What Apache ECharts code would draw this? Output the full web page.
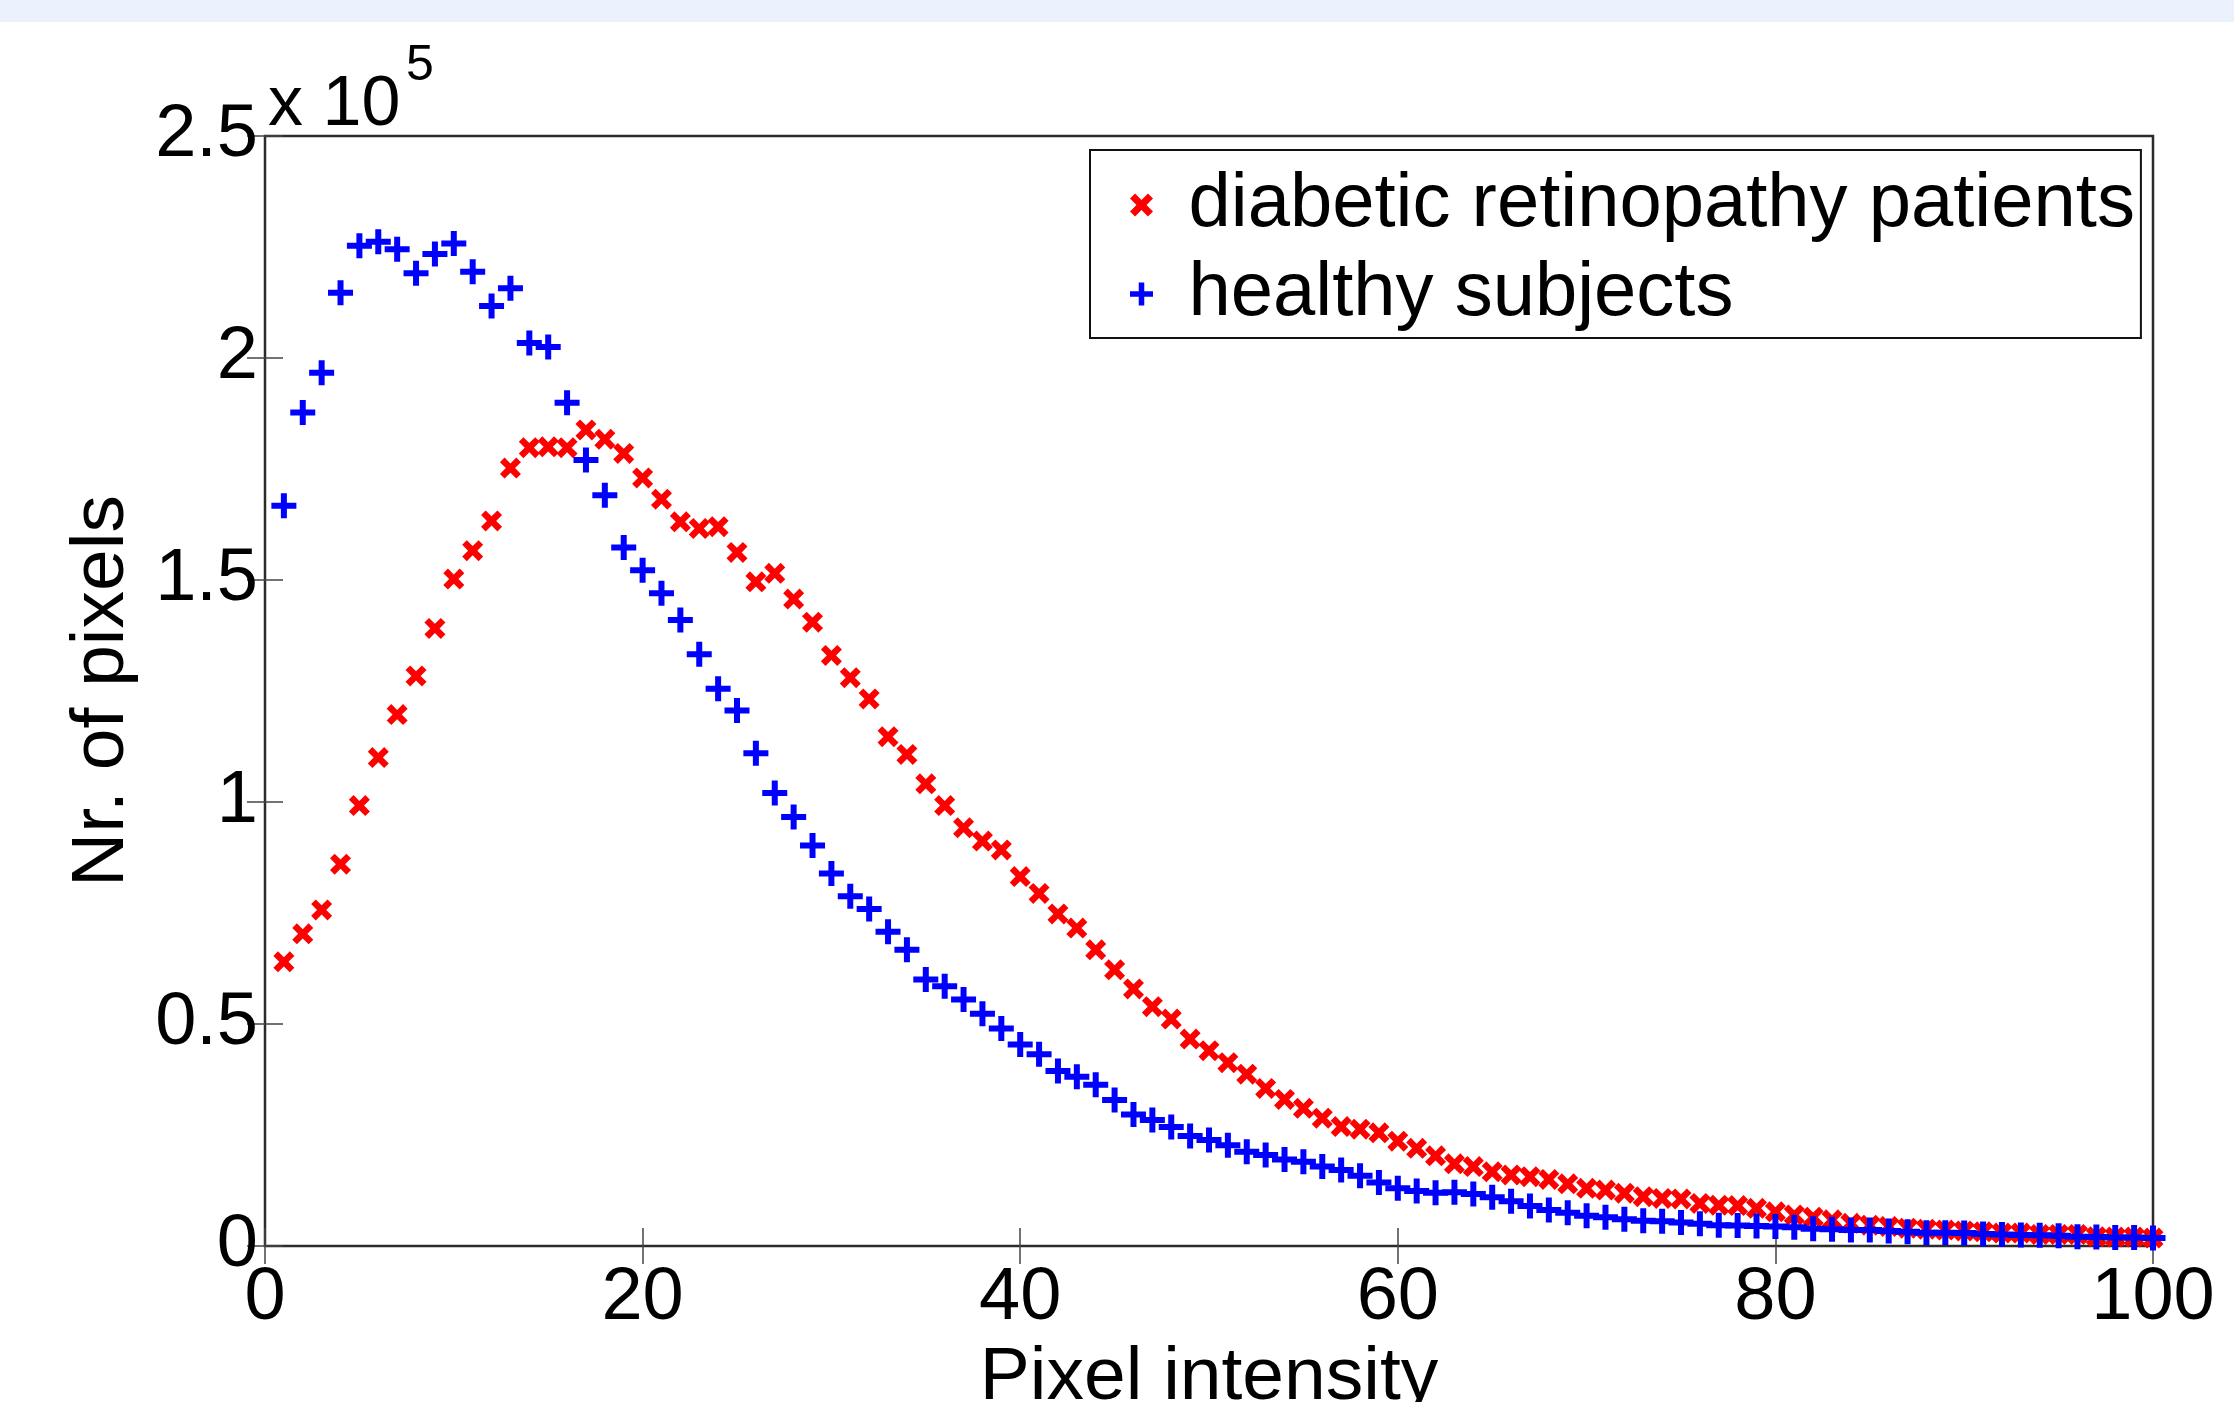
<!DOCTYPE html>
<html>
<head>
<meta charset="utf-8">
<title>Pixel intensity histogram</title>
<script src="https://cdn.jsdelivr.net/npm/echarts@6.0.0/dist/echarts.min.js"></script>
<style>
  html, body { margin: 0; padding: 0; background: #fff; }
  #chart { width: 2234px; height: 1402px; }
</style>
</head>
<body>
<div id="chart"></div>
<script>
// pixel intensity (x axis)
var intensity = [1, 2, 3, 4, 5, 6, 7, 8, 9, 10, 11, 12, 13, 14, 15, 16, 17, 18, 19, 20,
  21, 22, 23, 24, 25, 26, 27, 28, 29, 30, 31, 32, 33, 34, 35, 36, 37, 38, 39, 40,
  41, 42, 43, 44, 45, 46, 47, 48, 49, 50, 51, 52, 53, 54, 55, 56, 57, 58, 59, 60,
  61, 62, 63, 64, 65, 66, 67, 68, 69, 70, 71, 72, 73, 74, 75, 76, 77, 78, 79, 80,
  81, 82, 83, 84, 85, 86, 87, 88, 89, 90, 91, 92, 93, 94, 95, 96, 97, 98, 99, 100];

// nr. of pixels, in units of 10^5
var diabetic = [0.640, 0.703, 0.757, 0.860, 0.992, 1.100, 1.197, 1.284, 1.391, 1.502,
  1.566, 1.633, 1.752, 1.798, 1.800, 1.798, 1.838, 1.817, 1.785, 1.730,
  1.682, 1.631, 1.616, 1.620, 1.562, 1.496, 1.515, 1.457, 1.405, 1.330,
  1.280, 1.232, 1.147, 1.107, 1.041, 0.992, 0.942, 0.912, 0.892, 0.832,
  0.794, 0.748, 0.716, 0.667, 0.622, 0.579, 0.539, 0.511, 0.466, 0.440,
  0.413, 0.387, 0.355, 0.330, 0.310, 0.288, 0.269, 0.263, 0.255, 0.236,
  0.220, 0.203, 0.185, 0.179, 0.167, 0.160, 0.156, 0.150, 0.140, 0.130,
  0.126, 0.119, 0.111, 0.107, 0.106, 0.096, 0.092, 0.091, 0.085, 0.077,
  0.070, 0.065, 0.059, 0.051, 0.047, 0.044, 0.040, 0.038, 0.036, 0.034,
  0.032, 0.029, 0.029, 0.026, 0.026, 0.026, 0.021, 0.020, 0.020, 0.018];

var healthy = [1.667, 1.877, 1.967, 2.147, 2.253, 2.262, 2.245, 2.191, 2.234, 2.258,
  2.194, 2.117, 2.157, 2.034, 2.025, 1.899, 1.770, 1.691, 1.573, 1.522,
  1.470, 1.410, 1.333, 1.255, 1.206, 1.110, 1.020, 0.966, 0.902, 0.839,
  0.788, 0.759, 0.708, 0.667, 0.600, 0.585, 0.555, 0.523, 0.490, 0.454,
  0.432, 0.394, 0.381, 0.363, 0.329, 0.296, 0.284, 0.268, 0.248, 0.239,
  0.227, 0.212, 0.205, 0.195, 0.190, 0.179, 0.171, 0.158, 0.143, 0.130,
  0.124, 0.120, 0.121, 0.117, 0.110, 0.101, 0.090, 0.081, 0.075, 0.068,
  0.065, 0.060, 0.057, 0.056, 0.053, 0.050, 0.047, 0.046, 0.045, 0.044,
  0.042, 0.039, 0.038, 0.036, 0.036, 0.034, 0.032, 0.030, 0.030, 0.029,
  0.027, 0.026, 0.025, 0.024, 0.023, 0.021, 0.020, 0.019, 0.019, 0.018];

var seriesNames = ["diabetic retinopathy patients", "healthy subjects"];

// marker shapes (matlab 'x' and '+')
var PLUS = "path://M38,0H62V38H100V62H62V100H38V62H0V38H38Z";
var CROSS = "path://M0,22L22,0L50,28L78,0L100,22L72,50L100,78L78,100L50,72L22,100L0,78L28,50Z";
var FONT = "Liberation Sans, Arial, Helvetica, sans-serif";

function toPoints(xs, ys) {
  var pts = [];
  for (var i = 0; i < xs.length; i++) {
    pts.push([xs[i], ys[i]]);
  }
  return pts;
}

var myChart = echarts.init(document.getElementById("chart"));

var tickStyle = { show: true, inside: true, length: 18, lineStyle: { color: "#444", width: 1.5 } };

var option = {
  backgroundColor: "#fff",
  animation: false,
  grid: {
    left: 265,
    right: 81,
    top: 136,
    bottom: 156,
    show: true,
    borderColor: "#2b2b2b",
    borderWidth: 2.5,
    outerBoundsMode: "none",
  },
  legend: {
    orient: "vertical",
    left: 1090,
    top: 150,
    padding: [17, 6, 6, 40],
    itemWidth: 84,
    itemHeight: 23,
    itemGap: 13,
    backgroundColor: "#fff",
    borderColor: "#111",
    borderWidth: 2,
    data: seriesNames,
    textStyle: { fontFamily: FONT, fontSize: 76, color: "#000" },
  },
  xAxis: [
    {
      type: "value",
      min: 0,
      max: 100,
      interval: 20,
      name: "Pixel intensity",
      nameLocation: "middle",
      nameGap: 84,
      nameTextStyle: { fontFamily: FONT, fontSize: 75, color: "#000" },
      axisLine: { show: false },
      axisTick: tickStyle,
      splitLine: { show: false },
      axisLabel: { margin: 16, fontFamily: FONT, fontSize: 74, color: "#000" },
    },
    {
      // top side ticks
      type: "value",
      position: "top",
      min: 0,
      max: 100,
      interval: 20,
      axisLine: { show: false },
      axisTick: tickStyle,
      splitLine: { show: false },
      axisLabel: { show: false },
    },
  ],
  yAxis: [
    {
      type: "value",
      min: 0,
      max: 2.5,
      interval: 0.5,
      name: "Nr. of pixels",
      nameLocation: "middle",
      nameGap: 125,
      nameTextStyle: { fontFamily: FONT, fontSize: 75, color: "#000" },
      axisLine: { show: false },
      axisTick: tickStyle,
      splitLine: { show: false },
      axisLabel: { margin: 7, fontFamily: FONT, fontSize: 74, color: "#000" },
    },
    {
      // right side ticks
      type: "value",
      position: "right",
      min: 0,
      max: 2.5,
      interval: 0.5,
      axisLine: { show: false },
      axisTick: tickStyle,
      splitLine: { show: false },
      axisLabel: { show: false },
    },
  ],
  graphic: [
    {
      type: "rect",
      left: 0,
      top: 0,
      shape: { width: 2234, height: 22 },
      style: { fill: "#ebf1fc" },
      silent: true,
    },
    {
      // exponent label of the y axis
      type: "text",
      x: 268,
      y: 106,
      style: { text: "x 10", font: "70px " + FONT, fill: "#000", verticalAlign: "middle" },
    },
    {
      type: "text",
      x: 406,
      y: 66,
      style: { text: "5", font: "50px " + FONT, fill: "#000", verticalAlign: "middle" },
    },
  ],
  series: [
    {
      name: seriesNames[0],
      type: "scatter",
      data: toPoints(intensity, diabetic),
      symbol: CROSS,
      symbolSize: 21,
      clip: false,
      itemStyle: { color: "#ff0000", opacity: 1 },
    },
    {
      name: seriesNames[1],
      type: "scatter",
      data: toPoints(intensity, healthy),
      symbol: PLUS,
      symbolSize: 25,
      clip: false,
      itemStyle: { color: "#0000ff", opacity: 1 },
    },
  ],
};
myChart.setOption(option);
</script>
</body>
</html>
